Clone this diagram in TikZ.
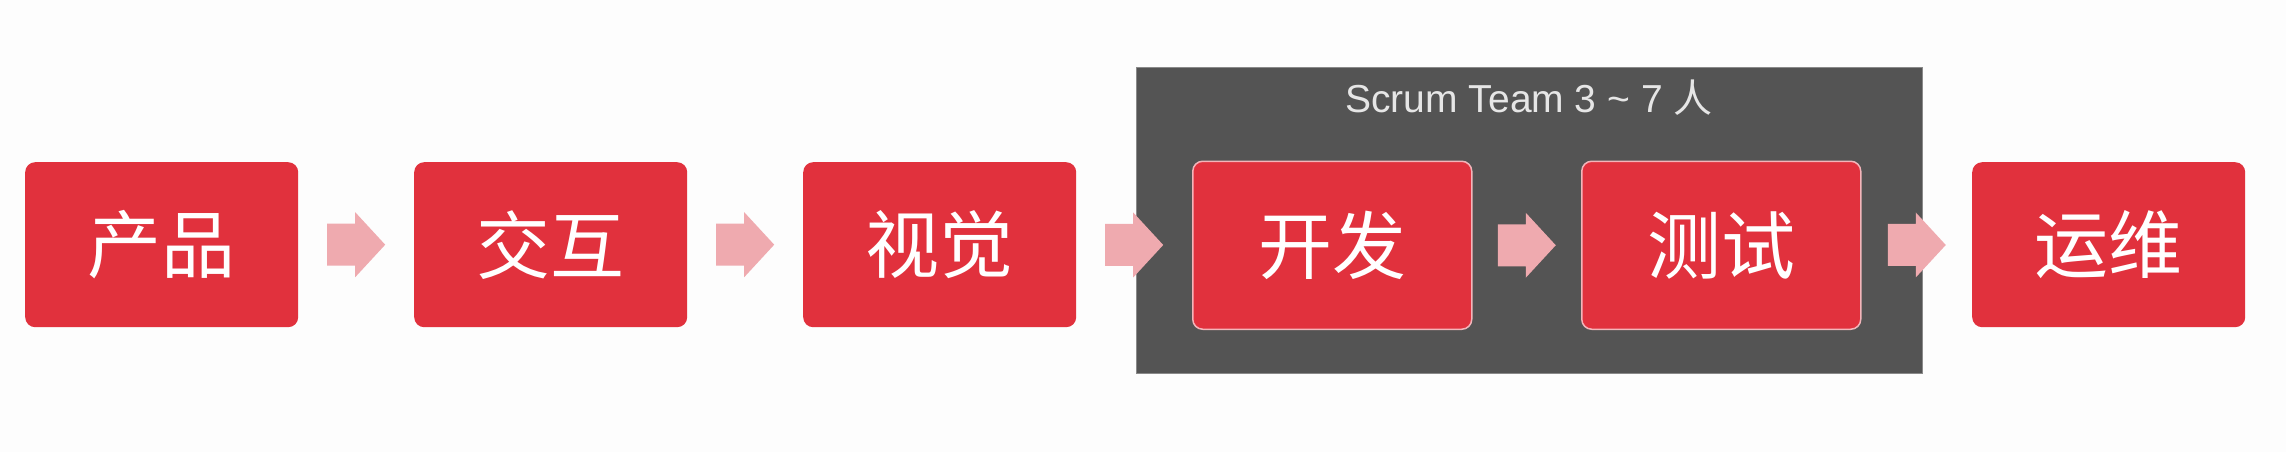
\documentclass[tikz,border=0pt]{standalone}
\usepackage{fontspec}
\setmainfont{Liberation Sans}
\newfontfamily\cjk{Noto Sans CJK SC}
\usetikzlibrary{calc}
\definecolor{bg}{HTML}{FDFDFD}
\definecolor{boxred}{HTML}{E1313D}
\definecolor{arrowpink}{HTML}{EFAAAF}
\definecolor{teamgray}{HTML}{545454}
\definecolor{teamedge}{HTML}{8A8A8A}
\definecolor{rim}{HTML}{F3B5BA}
\definecolor{titlegray}{HTML}{E6E6E6}
\newcommand\blockarrow[2]{%
  \fill[arrowpink] ($(#1.east)!0.5!(#2.west)$) ++(-29,-21) -- ++(28,0) -- ++(0,-11.5)
    -- ++(30,32.5) -- ++(-30,32.5) -- ++(0,-11.5) -- ++(-28,0) -- cycle;}
\begin{document}
\begin{tikzpicture}[x=1pt,y=-1pt,
  stage/.style={fill=boxred, rounded corners=10pt, minimum width=273pt,
    minimum height=165pt, inner sep=0pt, text=white,
    font=\cjk\fontsize{74}{80}\selectfont, anchor=north west},
  teamstage/.style={stage, draw=rim, line width=1.5pt, minimum width=279pt,
    minimum height=168pt},
  team/.style={fill=teamgray, draw=teamedge, line width=1pt, minimum width=786pt,
    minimum height=306pt, inner sep=0pt, anchor=north west},
  teamtitle/.style={text=titlegray, font=\fontsize{39}{44}\selectfont, anchor=base}]
\useasboundingbox[fill=bg] (0,0) rectangle (2286,452);
\node[team] (scrum) at (1136,67) {};
\node[teamtitle] (title) at (1529,112) {Scrum Team 3 \textasciitilde{} 7 {\cjk 人}};
\node[stage] (p) at (25,162) {产品};
\node[stage] (j) at (414,162) {交互};
\node[stage] (s) at (803,162) {视觉};
\node[teamstage] (k) at (1192,160.5) {开发};
\node[teamstage] (c) at (1581,160.5) {测试};
\node[stage] (y) at (1972,162) {运维};
\blockarrow{p}{j}
\blockarrow{j}{s}
\blockarrow{s}{k}
\blockarrow{k}{c}
\blockarrow{c}{y}
\end{tikzpicture}
\end{document}
